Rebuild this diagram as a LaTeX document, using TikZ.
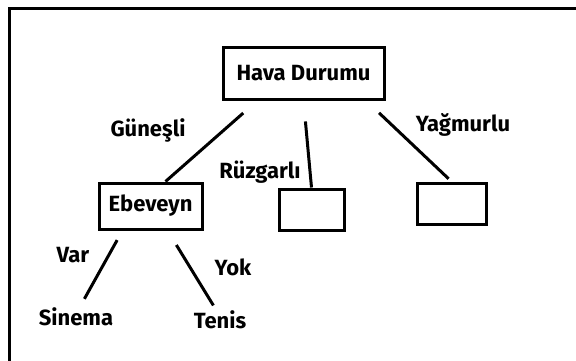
\documentclass[tikz,border=0pt]{standalone}
\usepackage{fontspec}
\setmainfont{Fira Sans}
\usetikzlibrary{positioning}

\tikzset{
  box/.style={draw, line width=3pt, inner sep=0pt, font=\fontsize{22}{24}\selectfont\bfseries},
  branch/.style={line width=3pt},
  lbl/.style={inner sep=1pt, font=\fontsize{22}{24}\selectfont\bfseries},
}

\begin{document}
\begin{tikzpicture}[x=1pt,y=-1pt]
\clip (0,0) rectangle (576,360);
\fill[white] (0,0) rectangle (576,360);
\draw[line width=3pt] (9,8) rectangle (600,400);

% boxes
\node[box, minimum width=161pt, minimum height=52pt] (weather) at (303.5,73) {Hava Durumu};
\node[box, minimum width=103pt, minimum height=46pt] (parent) at (150.5,206) {Ebeveyn};
\node[box, minimum width=65pt, minimum height=41pt] (windy) at (311.5,209.5) {};
\node[box, minimum width=69pt, minimum height=41pt] (rainy) at (451.5,203.5) {};

% leaves
\node[lbl] (cinema) at (76,317) {Sinema};
\node[lbl] (tennis) at (220,320) {Tenis};

% branches
\draw[branch, shorten <=19pt] ([xshift=-46pt]weather.south) -- ([xshift=15pt]parent.north);
\draw[branch, shorten <=21pt] (weather.south) -- (windy.north);
\draw[branch, shorten <=18pt, shorten >=4pt] ([xshift=62.5pt]weather.south) -- (rainy.north);
\draw[branch, shorten <=11pt, shorten >=9pt] ([xshift=-28pt]parent.south) -- ([xshift=4pt]cinema.north);
\draw[branch, shorten <=17pt, shorten >=5pt] ([xshift=17pt]parent.south) -- ([xshift=-4pt]tennis.north);

% branch labels
\node[lbl] (sunny) at (148,130) {Güneşli};
\node[lbl] (windylbl) at (260,172) {Rüzgarlı};
\node[lbl] (rainylbl) at (463,125) {Yağmurlu};
\node[lbl] (yes) at (73,255) {Var};
\node[lbl] (no) at (233,267) {Yok};
\end{tikzpicture}
\end{document}
